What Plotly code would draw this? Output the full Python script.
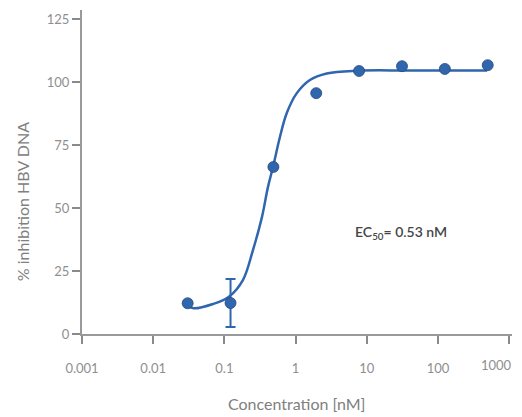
import plotly.graph_objects as go

# Measured data points
conc = [0.0305, 0.122, 0.488, 1.95, 7.8, 31.25, 125, 500]
inhibition = [12.2, 12.3, 66.3, 95.6, 104.4, 106.3, 105.2, 106.7]
err = [0, 9.5, 0, 0, 0, 0, 0, 0]

# Fitted curve
curve_conc = [0.0295, 0.0366, 0.0692, 0.116, 0.182, 0.252, 0.337, 0.409,
              0.482, 0.604, 0.750, 1.035, 1.59, 2.74, 7.2, 40, 490]
curve_val = [11.5, 10.2, 11.9, 14.8, 21.4, 33.3, 46.4, 58.3,
             66.3, 78.3, 87.6, 95.5, 100.8, 103.4, 104.5, 104.6, 104.6]

x_ticks = [0.001, 0.01, 0.1, 1, 10, 100, 1000]
x_tick_text = ["0.001", "0.01", "0.1", "1", "10", "100", ""]
last_tick_label = "1000"
y_ticks = [0, 25, 50, 75, 100, 125]

BLUE = "#2f66ad"
GRAY = "#8f8f8f"
FONT = "Lato"

fig = go.Figure()
fig.add_trace(go.Scatter(
    x=curve_conc, y=curve_val, mode="lines",
    line=dict(color=BLUE, width=2.5, shape="spline", smoothing=1.0),
    hoverinfo="skip", showlegend=False))
fig.add_trace(go.Scatter(
    x=conc, y=inhibition, mode="markers",
    marker=dict(color=BLUE, size=11, line=dict(color="#2a4a78", width=0.8)),
    error_y=dict(type="data", array=err, visible=True, color=BLUE,
                 thickness=2, width=5),
    showlegend=False))

fig.add_annotation(x=1.48, y=40.1, xref="x", yref="y",
                   xanchor="center", yanchor="middle",
                   text="EC<sub>50</sub>= 0.53 nM", showarrow=False,
                   font=dict(family=FONT, size=14, color="#454545", weight=600))
fig.add_annotation(x=1.0047, y=-0.0957, xref="paper", yref="paper",
                   xanchor="right", yanchor="middle",
                   text=last_tick_label, showarrow=False,
                   font=dict(family=FONT, size=13, color=GRAY))
fig.add_annotation(x=0.5, y=-0.216, xref="paper", yref="paper",
                   xanchor="center", yanchor="middle",
                   text="Concentration [nM]", showarrow=False,
                   font=dict(family=FONT, size=16, color="#808080"))
fig.add_annotation(x=-0.1395, y=0.407, xref="paper", yref="paper",
                   xanchor="center", yanchor="middle",
                   text="% inhibition HBV DNA", showarrow=False, textangle=-90,
                   font=dict(family=FONT, size=16, color="#808080"))

fig.update_layout(
    width=514, height=409,
    margin=dict(l=74, r=10, t=2, b=83, autoexpand=False),
    plot_bgcolor="white", paper_bgcolor="white",
    font=dict(family=FONT, color=GRAY),
    xaxis=dict(type="log", range=[-3, 3.04], tickvals=x_ticks,
               ticktext=x_tick_text, showgrid=False, zeroline=False,
               showline=True, linecolor="#9a9a9a", linewidth=2,
               ticks="outside", ticklen=8, tickwidth=1.5, tickcolor="#8a8a8a",
               ticklabelstandoff=13, automargin=False,
               tickfont=dict(size=13, color=GRAY, family=FONT)),
    yaxis=dict(range=[0, 128.6], tickvals=y_ticks, showgrid=False,
               zeroline=False, showline=True, linecolor="#9a9a9a",
               linewidth=2, ticks="outside", ticklen=8, tickwidth=1.5,
               tickcolor="#8a8a8a", automargin=False,
               tickfont=dict(size=13, color=GRAY, family=FONT)),
)

fig.write_html("out.html")
